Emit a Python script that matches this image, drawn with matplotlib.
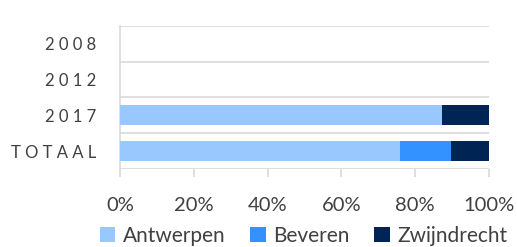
import matplotlib
matplotlib.use("Agg")
import matplotlib.pyplot as plt
import numpy as np

categories = ["TOTAAL", "2017", "2012", "2008"]
category_labels = ["T O T A A L", "2 0 1 7", "2 0 1 2", "2 0 0 8"]
antwerpen = [0.759, 0.872, 0.0, 0.0]
beveren = [0.137, 0.0, 0.0, 0.0]
zwijndrecht = [0.104, 0.128, 0.0, 0.0]
series_names = ["Antwerpen", "Beveren", "Zwijndrecht"]
colors = ["#99C7FF", "#3392FF", "#002454"]
xticks = [0, 0.2, 0.4, 0.6, 0.8, 1.0]
xtick_labels = ["0%", "20%", "40%", "60%", "80%", "100%"]

plt.rcParams["font.family"] = ["Lato", "DejaVu Sans"]

fig = plt.figure(figsize=(5.17, 2.47), dpi=100)
ax = fig.add_axes([120/517, 78/247, 369/517, 143/247])

y = np.arange(len(categories))
left = np.zeros(len(categories))
handles = []
for vals, name, c in zip([antwerpen, beveren, zwijndrecht], series_names, colors):
    h = ax.barh(y, vals, left=left, height=0.56, color=c, label=name, zorder=3)
    handles.append(h)
    left = left + np.array(vals)

ax.set_xlim(0, 1)
ax.set_ylim(-0.5, len(categories) - 0.5)
ax.set_yticks(y)
ax.set_yticklabels(category_labels, fontsize=12, color="#404040")
ax.set_yticks(np.arange(-0.5, len(categories), 1.0), minor=True)
ax.tick_params(axis="y", which="both", length=0, pad=17)
ax.grid(axis="y", which="minor", color="#D9D9D9", linewidth=1.2, zorder=0)

ax.set_xticks(xticks)
ax.set_xticklabels(xtick_labels, fontsize=14.5, color="#404040")
ax.tick_params(axis="x", length=6, color="#D9D9D9", width=1.2, pad=14)

for s in ["top", "right", "bottom"]:
    ax.spines[s].set_visible(False)
ax.spines["left"].set_color("#D9D9D9")
ax.spines["left"].set_linewidth(1.2)

fig.legend(handles=handles, labels=series_names, loc="center", bbox_to_anchor=(0.587, 11/247),
           ncol=3, frameon=False, fontsize=15, handlelength=0.75, handleheight=0.75,
           handletextpad=0.35, columnspacing=1.2, labelcolor="#404040",
           borderpad=0, borderaxespad=0)

fig.savefig("out.png", dpi=100)
